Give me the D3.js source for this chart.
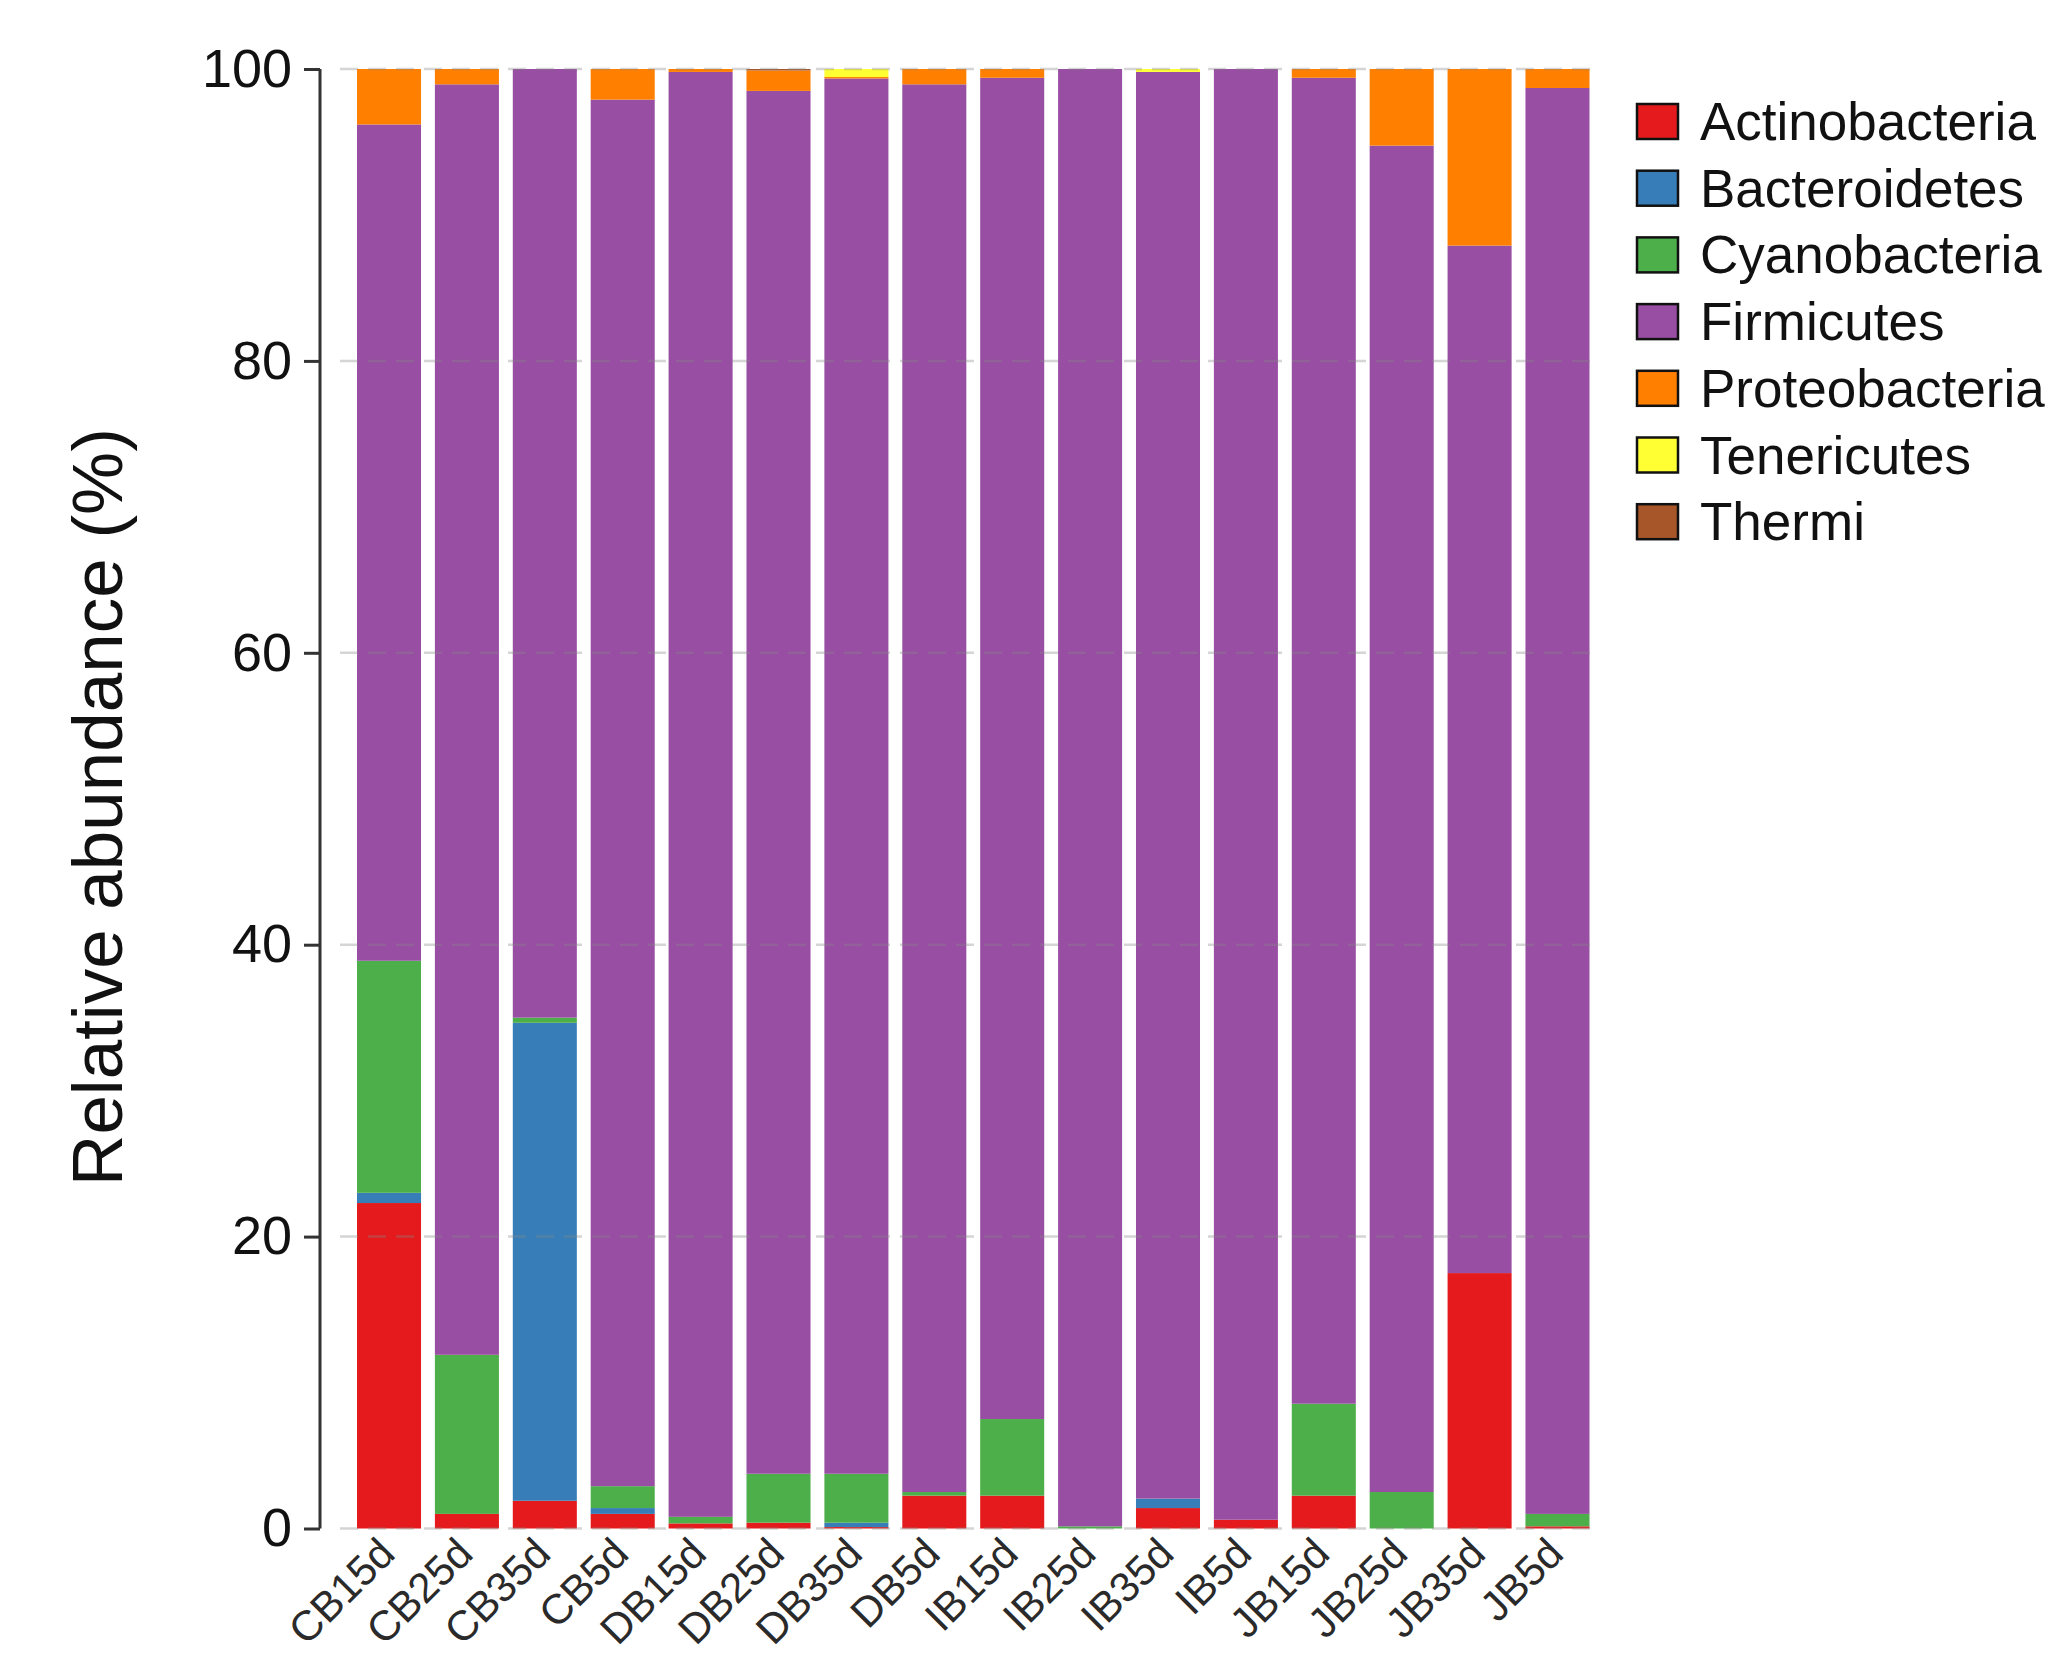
<!DOCTYPE html>
<html>
<head>
<meta charset="utf-8">
<script src="https://cdn.jsdelivr.net/npm/d3@7"></script>
<style>
  body { margin: 0; background: #fff; }
  text { font-family: "Liberation Sans", Arial, Helvetica, sans-serif; }
</style>
</head>
<body>
<div id="chart"></div>
<script>
// samples along the x axis
var samples = ["CB15d","CB25d","CB35d","CB5d","DB15d","DB25d","DB35d","DB5d",
               "IB15d","IB25d","IB35d","IB5d","JB15d","JB25d","JB35d","JB5d"];

// phyla, stacked bottom to top
var phyla = ["Actinobacteria","Bacteroidetes","Cyanobacteria","Firmicutes",
             "Proteobacteria","Tenericutes","Thermi"];
var colors = ["#E41A1C","#377EB8","#4DAF4A","#984EA3","#FF7F00","#FFFF33","#A65628"];

// relative abundance (%) per sample
var actinobacteria = [22.3, 1.0, 1.9, 1.0, 0.35, 0.4, 0.1, 2.25, 2.25, 0.0, 1.4, 0.6, 2.25, 0.0, 17.5, 0.15];
var bacteroidetes  = [0.7, 0.0, 32.75, 0.4, 0.0, 0.0, 0.3, 0.0, 0.0, 0.0, 0.65, 0.0, 0.0, 0.0, 0.0, 0.0];
var cyanobacteria  = [15.9, 10.9, 0.35, 1.5, 0.45, 3.35, 3.35, 0.25, 5.25, 0.15, 0.0, 0.0, 6.3, 2.5, 0.0, 0.85];
var firmicutes     = [57.3, 87.05, 65.0, 95.0, 99.0, 94.75, 95.6, 96.45, 91.9, 99.85, 97.75, 99.4, 90.85, 92.25, 70.4, 97.7];
var proteobacteria = [3.8, 1.05, 0.0, 2.1, 0.2, 1.4, 0.1, 1.05, 0.6, 0.0, 0.0, 0.0, 0.6, 5.25, 12.1, 1.3];
var tenericutes    = [0.0, 0.0, 0.0, 0.0, 0.0, 0.0, 0.55, 0.0, 0.0, 0.0, 0.2, 0.0, 0.0, 0.0, 0.0, 0.0];
var thermi         = [0.0, 0.0, 0.0, 0.0, 0.0, 0.1, 0.0, 0.0, 0.0, 0.0, 0.0, 0.0, 0.0, 0.0, 0.0, 0.0];

var yTicks = [0, 20, 40, 60, 80, 100];

var series = [actinobacteria, bacteroidetes, cyanobacteria, firmicutes,
              proteobacteria, tenericutes, thermi];

var rows = samples.map(function(s, i) {
    var r = { sample: s };
    phyla.forEach(function(p, j) { r[p] = series[j][i]; });
    return r;
});

var W = 2062, H = 1656;
var svg = d3.select('#chart').append('svg')
    .attr('width', W).attr('height', H);

var x = d3.scaleBand().domain(samples).range([357, 1589.5])
    .paddingInner(0.178).paddingOuter(0);
var y = d3.scaleLinear().domain([0, 100]).range([1528.5, 69]);
var color = d3.scaleOrdinal().domain(phyla).range(colors);

var stacked = d3.stack().keys(phyla)(rows);

// bars
svg.append('g').selectAll('g').data(stacked)
    .enter().append('g')
        .attr('fill', function(d) { return color(d.key); })
    .selectAll('rect').data(function(d) { return d; })
    .enter().append('rect')
        .attr('x', function(d) { return x(d.data.sample); })
        .attr('width', x.bandwidth())
        .attr('y', function(d) { return y(d[1]); })
        .attr('height', function(d) { return y(d[0]) - y(d[1]); });

// faint dashed grid on top
svg.append('g').selectAll('line').data(yTicks)
    .enter().append('line')
        .attr('x1', 340).attr('x2', 1598)
        .attr('y1', function(d) { return y(d); })
        .attr('y2', function(d) { return y(d); })
        .attr('stroke', '#888').attr('stroke-opacity', 0.35)
        .attr('stroke-width', 2.5).attr('stroke-dasharray', '18,10');

// y axis
var yAxis = svg.append('g')
    .attr('transform', 'translate(320,0)')
    .call(d3.axisLeft(y).tickValues(yTicks).tickSize(16).tickPadding(12));
yAxis.select('.domain').attr('stroke', '#333').attr('stroke-width', 3)
    .attr('d', 'M0,' + y(100) + 'V' + y(0));
yAxis.selectAll('.tick line').attr('stroke', '#333').attr('stroke-width', 3);
yAxis.selectAll('.tick text').attr('font-size', 54).attr('fill', '#111')
    .attr('font-family', '"Liberation Sans", Arial, sans-serif');

svg.append('text')
    .attr('transform', 'translate(122,807) rotate(-90)')
    .attr('text-anchor', 'middle')
    .attr('font-size', 71).attr('fill', '#111')
    .text('Relative abundance (%)');

// x labels, 45 degrees
svg.append('g').selectAll('text').data(samples)
    .enter().append('text')
        .attr('transform', function(d) {
            return 'translate(' + (x(d) + x.bandwidth() / 2 + 8) + ',1556) rotate(-45)';
        })
        .attr('text-anchor', 'end')
        .attr('font-size', 42).attr('fill', '#2a2a2a')
        .text(function(d) { return d; });

// legend
var legend = svg.append('g').selectAll('g').data(phyla)
    .enter().append('g')
        .attr('transform', function(d, i) { return 'translate(1637,' + (121 + i * 66.7) + ')'; });
legend.append('rect')
    .attr('x', 0).attr('y', -17).attr('width', 41).attr('height', 35)
    .attr('fill', function(d) { return color(d); })
    .attr('stroke', '#111').attr('stroke-width', 2.5);
legend.append('text')
    .attr('x', 63).attr('y', 0).attr('dy', '0.36em')
    .attr('font-size', 53).attr('fill', '#111')
    .text(function(d) { return d; });
</script>
</body>
</html>
